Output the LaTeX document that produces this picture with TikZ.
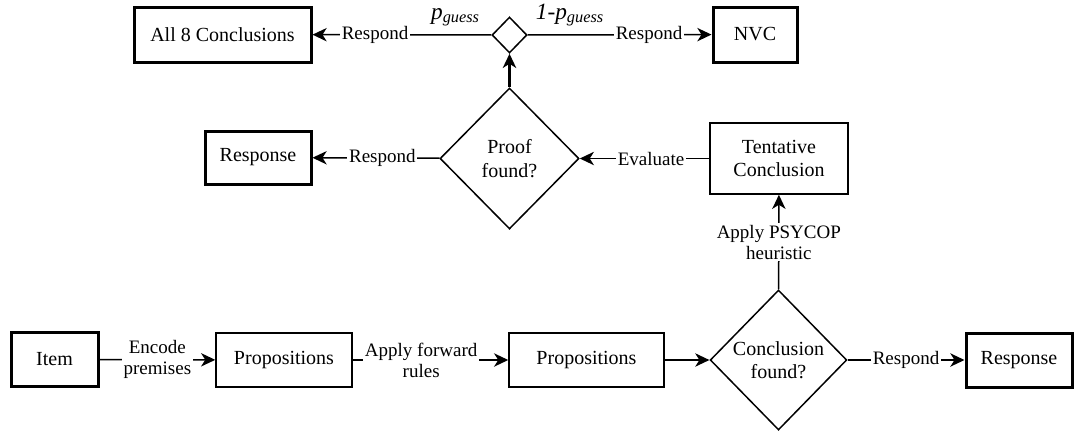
\documentclass[tikz,border=0pt]{standalone}
\usepackage{fontspec}
\setmainfont{Liberation Serif}
\newfontfamily\diagfont{Liberation Serif}
\usetikzlibrary{shapes.geometric, arrows.meta}

\tikzstyle{box}=[draw, line width=0.9pt, font=\diagfont\fontsize{12}{14}\selectfont, align=center, inner sep=0pt]
\tikzstyle{endbox}=[box, line width=1.8pt]
\tikzstyle{decision}=[draw, diamond, aspect=1, line width=0.9pt, inner sep=0pt, font=\diagfont\fontsize{12}{14}\selectfont, align=center]
\tikzstyle{arrow}=[line width=0.9pt, -{Stealth[length=8.5pt, width=8pt, inset=2.5pt]}]
\tikzstyle{lbl}=[fill=white, inner sep=1pt, font=\diagfont\fontsize{11.4}{12.5}\selectfont, align=center]
\tikzstyle{prob}=[font=\diagfont\fontsize{14}{15}\selectfont\itshape, above=1.5pt]

\begin{document}
\begin{tikzpicture}[x=0.6pt, y=-0.6pt]
      \useasboundingbox (0, 0) rectangle (1075, 431);

      \node[endbox, minimum width=52.2pt, minimum height=32.4pt] (item) at (54.5, 359.5) {Item};
      \node[box, minimum width=81.6pt, minimum height=32.4pt] (prop1) at (284, 360) {Propositions};
      \node[box, minimum width=93pt, minimum height=32.4pt] (prop2) at (586.5, 360) {Propositions};
      \node[decision, minimum width=82pt, minimum height=84pt] (concl) at (778.5, 360) {Conclusion\\found?};
      \node[endbox, minimum width=63.6pt, minimum height=32.4pt] (resp1) at (1019, 360) {Response};
      \node[box, minimum width=82.8pt, minimum height=42.6pt] (tent) at (779, 158.5) {Tentative\\Conclusion};
      \node[decision, minimum width=83.4pt, minimum height=84.6pt] (proof) at (509.5, 158.5) {Proof\\found?};
      \node[endbox, minimum width=63.6pt, minimum height=31.8pt] (resp2) at (258, 157.5) {Response};
      \node[decision, minimum width=21pt, minimum height=21.6pt] (guess) at (509.5, 35) {};
      \node[endbox, minimum width=106.2pt, minimum height=33pt] (all) at (222.5, 34.5) {All 8 Conclusions};
      \node[endbox, minimum width=50.4pt, minimum height=33pt] (nvc) at (755, 34.5) {NVC};

      \draw[arrow] (item) -- node[lbl] {Encode\\premises} (prop1);
      \draw[arrow] (prop1) -- node[lbl, pos=0.44] {Apply forward\\rules} (prop2);
      \draw[arrow] (prop2) -- (concl);
      \draw[arrow] (concl) -- node[lbl] {Respond} (resp1);
      \draw[arrow] (concl) -- node[lbl] {Apply PSYCOP\\heuristic} (tent);
      \draw[arrow] (tent) -- node[lbl, pos=0.45] {Evaluate} (proof);
      \draw[arrow] (proof) -- node[lbl, pos=0.45] {Respond} (resp2);
      \draw[arrow, line width=1.5pt] (proof) -- (guess);
      \draw[arrow] (guess) -- node[lbl, pos=0.65] {Respond}
        node[prob, pos=0.2] {p\textsubscript{guess}} (all);
      \draw[arrow] (guess) -- node[lbl, pos=0.66] {Respond}
        node[prob, pos=0.23] {1-p\textsubscript{guess}} (nvc);
    \end{tikzpicture}
\end{document}
